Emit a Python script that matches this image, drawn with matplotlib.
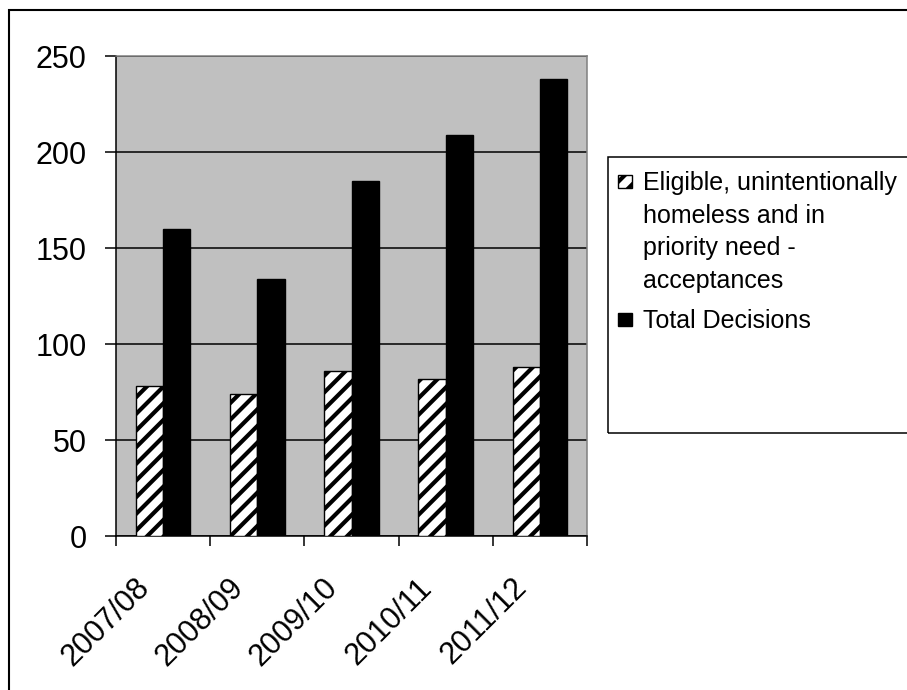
import matplotlib
matplotlib.use("Agg")
import matplotlib.pyplot as plt
import matplotlib.transforms as mtransforms
from matplotlib.patches import Rectangle
import numpy as np

years = ["2007/08", "2008/09", "2009/10", "2010/11", "2011/12"]
acceptances = [78, 74, 86, 82, 88]
total_decisions = [160, 134, 185, 209, 238]
legend_labels = ["Eligible, unintentionally\nhomeless and in\npriority need -\nacceptances",
                 "Total Decisions"]

plt.rcParams["font.family"] = ["Liberation Sans", "DejaVu Sans"]
plt.rcParams["hatch.linewidth"] = 3.0

W, H = 907, 690
fig = plt.figure(figsize=(W / 100, H / 100), dpi=100)
ax = fig.add_axes([116 / W, 1 - 536 / H, 471 / W, 480 / H])
ax.set_facecolor("#c0c0c0")

x = np.arange(len(years))
bw = 0.29
ax.bar(x - bw / 2, acceptances, bw, color="white", edgecolor="black",
       hatch="//", linewidth=1.0, zorder=3)
ax.bar(x + bw / 2, total_decisions, bw, color="black", edgecolor="black",
       linewidth=1.0, zorder=3)

ax.set_xlim(-0.5, len(years) - 0.5)
ax.set_ylim(0, 250)
ax.set_yticks(range(0, 251, 50))
ax.yaxis.grid(True, color="black", linewidth=1.1, zorder=1)
ax.set_axisbelow(True)

ax.set_xticks(x)
ax.set_xticklabels(years, rotation=45, rotation_mode="anchor", ha="right", va="center")
ax.set_xticks(np.arange(-0.5, len(years), 1.0), minor=True)
ax.tick_params(axis="x", which="major", length=0, pad=34, labelsize=22)
ax.tick_params(axis="x", which="minor", length=7.2, width=1.1, direction="out")
ax.tick_params(axis="y", length=8, width=1.1, pad=13, labelsize=22)
shift = mtransforms.ScaledTranslation(-0.18, 0, fig.dpi_scale_trans)
for lbl in ax.get_xticklabels():
    lbl.set_transform(lbl.get_transform() + shift)

for side in ["left", "bottom"]:
    ax.spines[side].set_color("black")
    ax.spines[side].set_linewidth(1.1)
for side in ["top", "right"]:
    ax.spines[side].set_color("#808080")
    ax.spines[side].set_linewidth(1.1)

# outer chart border (cut at right and bottom)
fig.patches.append(Rectangle((8.5 / W, -0.1), 1.2, 1 - 9.5 / H + 0.1,
                             transform=fig.transFigure, fill=False,
                             edgecolor="black", linewidth=1.5))

# legend box drawn by hand
fig.patches.append(Rectangle((608 / W, 1 - 433 / H), 0.5, (433 - 157) / H,
                             transform=fig.transFigure, fill=False,
                             edgecolor="black", linewidth=1.1))
styles = [dict(facecolor="white", hatch="//"), dict(facecolor="black")]
first_baselines = [190, 328]
for label, style, base in zip(legend_labels, styles, first_baselines):
    fig.patches.append(Rectangle((618 / W, 1 - (base - 2) / H), 14 / W, 13 / H,
                                 transform=fig.transFigure, edgecolor="black",
                                 linewidth=1.0, **style))
    for i, line in enumerate(label.split("\n")):
        fig.text(643 / W, 1 - (base + i * 32.7) / H, line, fontsize=18,
                 va="baseline", ha="left")

fig.savefig("out.png", dpi=100)
